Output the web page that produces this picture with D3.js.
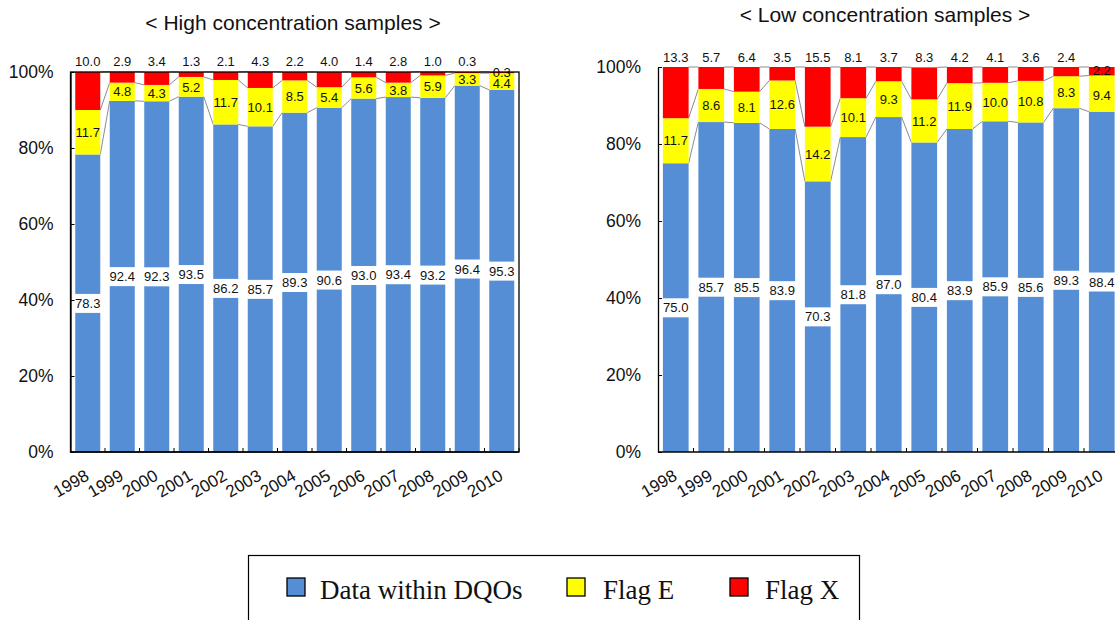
<!DOCTYPE html>
<html>
<head>
<meta charset="utf-8">
<script src="https://cdn.jsdelivr.net/npm/d3@7"></script>
<style>
  html, body { margin: 0; padding: 0; background: #fff; }
  svg { display: block; }
</style>
</head>
<body>
<svg id="chart" width="1115" height="620"></svg>
<script>
// ---------- data ----------
const years = ["1998","1999","2000","2001","2002","2003","2004","2005","2006","2007","2008","2009","2010"];

const highWithin = [78.3, 92.4, 92.3, 93.5, 86.2, 85.7, 89.3, 90.6, 93.0, 93.4, 93.2, 96.4, 95.3];
const highFlagE  = [11.7, 4.8, 4.3, 5.2, 11.7, 10.1, 8.5, 5.4, 5.6, 3.8, 5.9, 3.3, 4.4];
const highFlagX  = [10.0, 2.9, 3.4, 1.3, 2.1, 4.3, 2.2, 4.0, 1.4, 2.8, 1.0, 0.3, 0.3];

const lowWithin = [75.0, 85.7, 85.5, 83.9, 70.3, 81.8, 87.0, 80.4, 83.9, 85.9, 85.6, 89.3, 88.4];
const lowFlagE  = [11.7, 8.6, 8.1, 12.6, 14.2, 10.1, 9.3, 11.2, 11.9, 10.0, 10.8, 8.3, 9.4];
const lowFlagX  = [13.3, 5.7, 6.4, 3.5, 15.5, 8.1, 3.7, 8.3, 4.2, 4.1, 3.6, 2.4, 2.2];

const seriesNames = ["Data within DQOs", "Flag E", "Flag X"];
const seriesColors = ["#558ed5", "#ffff00", "#ff0000"];
const yTicks = [0, 20, 40, 60, 80, 100];

const titles = ["< High concentration samples >", "< Low concentration samples >"];

// ---------- drawing ----------
const svg = d3.select("#chart");
const sans = "Liberation Sans, Arial, sans-serif";

function drawPanel(cfg) {
  const {x0, step, yTop, yBottom, title, titleX, titleY, topLabelOffset, within, flagE, flagX, frame} = cfg;
  const g = svg.append("g");
  const rows = years.map((yr, i) => ({year: yr, within: within[i], flagE: flagE[i], flagX: flagX[i]}));
  const stack = d3.stack().keys(["within", "flagE", "flagX"])(rows);

  const x = d3.scaleBand().domain(years).range([x0, x0 + step * years.length]).paddingInner(0.275).paddingOuter(0.1375);
  const y = d3.scaleLinear().domain([0, 100]).range([yBottom, yTop]);
  const bw = x.bandwidth();

  // title
  g.append("text").attr("x", titleX).attr("y", titleY).attr("text-anchor", "middle")
    .attr("font-family", sans).attr("font-size", 21).attr("fill", "#111").text(title);

  // connector lines (series lines)
  stack.forEach((layer) => {
    const segs = [];
    for (let i = 0; i < layer.length - 1; i++) {
      segs.push({x1: x(years[i]) + bw, y1: y(layer[i][1]), x2: x(years[i + 1]), y2: y(layer[i + 1][1])});
    }
    g.append("g").selectAll("line").data(segs).join("line")
      .attr("x1", d => d.x1).attr("y1", d => d.y1).attr("x2", d => d.x2).attr("y2", d => d.y2)
      .attr("stroke", "#8c8c8c").attr("stroke-width", 1);
  });

  // bars
  stack.forEach((layer, li) => {
    g.append("g").selectAll("rect").data(layer).join("rect")
      .attr("x", d => x(d.data.year)).attr("width", bw)
      .attr("y", d => y(d[1])).attr("height", d => y(d[0]) - y(d[1]))
      .attr("fill", seriesColors[li]);
  });

  // blue labels with white box
  const blueLabels = g.append("g");
  stack[0].forEach((d) => {
    const cx = x(d.data.year) + bw / 2, cy = y((d[0] + d[1]) / 2);
    const t = blueLabels.append("text").attr("x", cx).attr("y", cy).attr("dy", "0.36em")
      .attr("text-anchor", "middle").attr("font-family", sans).attr("font-size", 13).attr("fill", "#111")
      .text(d.data.within.toFixed(1));
    const bb = t.node().getBBox();
    blueLabels.insert("rect", "text").attr("x", bb.x - 2).attr("y", bb.y - 2)
      .attr("width", bb.width + 4).attr("height", bb.height + 4).attr("fill", "#fff");
  });

  // yellow labels
  g.append("g").selectAll("text").data(stack[1]).join("text")
    .attr("x", d => x(d.data.year) + bw / 2)
    .attr("y", (d, i) => y((d[0] + d[1]) / 2) + (i === years.length - 1 ? 1.5 : 0)).attr("dy", "0.36em")
    .attr("text-anchor", "middle").attr("font-family", sans).attr("font-size", 13).attr("fill", "#111")
    .text(d => d.data.flagE.toFixed(1));

  // red labels: above plot, except last one at segment center
  g.append("g").selectAll("text").data(stack[2]).join("text")
    .attr("x", d => x(d.data.year) + bw / 2)
    .attr("y", (d, i) => i === years.length - 1 ? y((d[0] + d[1]) / 2) - 0.5 : yTop - topLabelOffset)
    .attr("dy", "0.36em")
    .attr("text-anchor", "middle").attr("font-family", sans).attr("font-size", 13).attr("fill", "#111")
    .text(d => d.data.flagX.toFixed(1));

  // frame
  const xEnd = x0 + step * years.length;
  if (frame) {
    g.append("rect").attr("x", x0).attr("y", yTop).attr("width", xEnd - x0).attr("height", yBottom - yTop)
      .attr("fill", "none").attr("stroke", "#000").attr("stroke-width", 1.3);
  }

  // y axis
  const yAxis = d3.axisLeft(y).tickValues(yTicks).tickFormat(d => d + "%").tickSizeInner(-4).tickSizeOuter(0).tickPadding(17);
  const ya = g.append("g").attr("transform", `translate(${x0},0)`).call(yAxis);
  ya.select(".domain").attr("stroke", "#000").attr("stroke-width", 1.3);
  ya.selectAll(".tick line").attr("stroke", "#000");
  ya.selectAll(".tick text").attr("font-family", sans).attr("font-size", 17.5).attr("fill", "#111");

  // x axis
  const xa = g.append("g").attr("transform", `translate(0,${yBottom})`);
  xa.append("line").attr("x1", x0).attr("x2", xEnd).attr("y1", 0).attr("y2", 0).attr("stroke", "#000").attr("stroke-width", 1.6);
  const bounds = d3.range(1, years.length + 1).map(i => x0 + step * i);
  xa.selectAll("line.tk").data(bounds).join("line").attr("class", "tk")
    .attr("x1", d => d).attr("x2", d => d).attr("y1", 0).attr("y2", -4).attr("stroke", "#000");
  xa.selectAll("text").data(years).join("text")
    .attr("transform", d => `translate(${x(d) + bw / 2 + 2.5},27) rotate(-30)`)
    .attr("text-anchor", "end").attr("font-family", sans).attr("font-size", 17).attr("fill", "#111")
    .text(d => d);
}

drawPanel({x0: 70.5, step: 34.5, yTop: 72, yBottom: 452, title: titles[0], titleX: 293, titleY: 30,
  topLabelOffset: 11, within: highWithin, flagE: highFlagE, flagX: highFlagX, frame: true});
drawPanel({x0: 658, step: 35.5, yTop: 67, yBottom: 452, title: titles[1], titleX: 885, titleY: 22,
  topLabelOffset: 10, within: lowWithin, flagE: lowFlagE, flagX: lowFlagX, frame: false});

// legend
const lg = svg.append("g");
lg.append("rect").attr("x", 248.5).attr("y", 555.5).attr("width", 611).attr("height", 80)
  .attr("fill", "#fff").attr("stroke", "#000").attr("stroke-width", 1.2);
const legendX = [287, 567, 730];
const legendTextX = [320, 603, 765];
seriesNames.forEach((name, i) => {
  lg.append("rect").attr("x", legendX[i]).attr("y", 578).attr("width", 18).attr("height", 18)
    .attr("fill", seriesColors[i]).attr("stroke", "#000").attr("stroke-width", 1.3);
  lg.append("text").attr("x", legendTextX[i]).attr("y", 599)
    .attr("font-family", "Liberation Serif, Times New Roman, serif").attr("font-size", 27).attr("fill", "#111")
    .text(name);
});
</script>
</body>
</html>
